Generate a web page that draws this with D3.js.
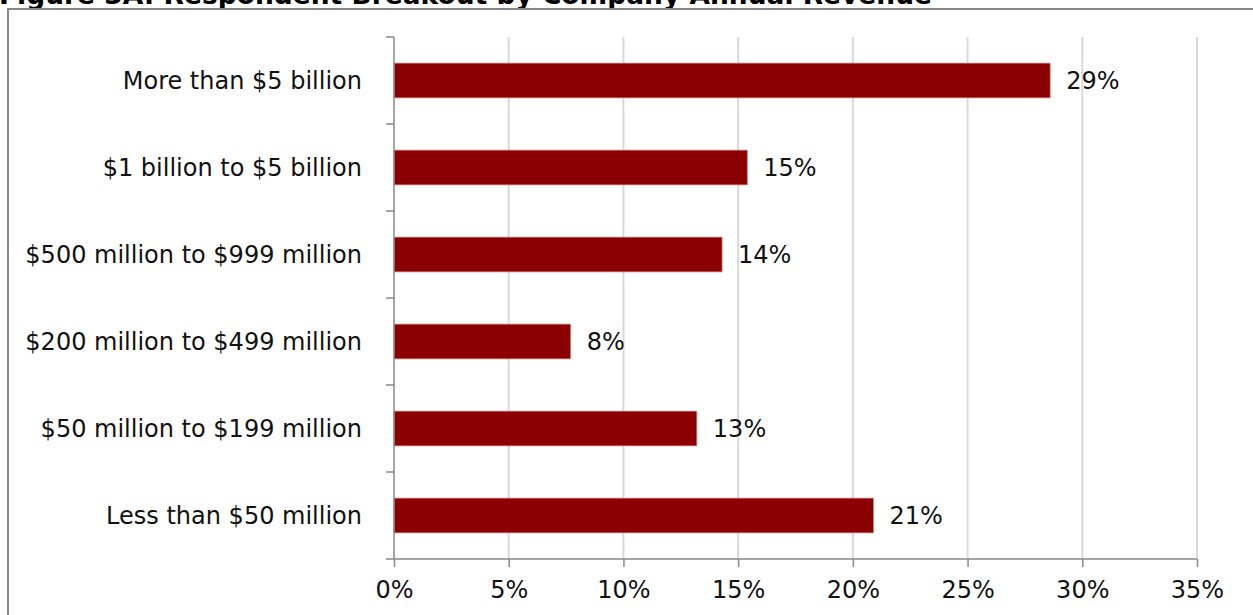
<!DOCTYPE html>
<html>
<head>
<meta charset="utf-8">
<script src="https://cdn.jsdelivr.net/npm/d3@7"></script>
<style>
  html, body { margin: 0; padding: 0; background: #fff; overflow: hidden; }
  svg { display: block; }
</style>
</head>
<body>
<svg id="chart" width="1253" height="615"></svg>
<script>
// Revenue bands, top to bottom
const categories = [
  "More than $5 billion",
  "$1 billion to $5 billion",
  "$500 million to $999 million",
  "$200 million to $499 million",
  "$50 million to $199 million",
  "Less than $50 million"
];
// Share of respondents (%)
const shares = [28.6, 15.4, 14.3, 7.7, 13.2, 20.9];
const tickValues = [0, 5, 10, 15, 20, 25, 30, 35];
const title = "Figure 3A: Respondent Breakout by Company Annual Revenue";

const svg = d3.select("#chart");
const font = "'DejaVu Sans', Verdana, sans-serif";
const labelSize = 24;

// Title (sits above the frame)
svg.append("text")
  .attr("x", -1).attr("y", 4)
  .attr("font-family", font).attr("font-weight", "bold")
  .attr("font-size", 26.5).attr("fill", "#000")
  .text(title);

// Chart frame
svg.append("rect")
  .attr("x", 8).attr("y", 9).attr("width", 1260).attr("height", 620)
  .attr("fill", "none").attr("stroke", "#868686").attr("stroke-width", 2);

const plot = { left: 394, right: 1197, top: 37, bottom: 559 };

const x = d3.scaleLinear().domain([0, 35]).range([plot.left, plot.right]);
const y = d3.scaleBand().domain(categories).range([plot.top, plot.bottom]).paddingInner(0.6).paddingOuter(0.3);
const yEdges = d3.scaleBand().domain(categories).range([plot.top, plot.bottom]);

// Vertical gridlines
svg.append("g").selectAll("line")
  .data(tickValues.filter(d => d > 0))
  .join("line")
  .attr("x1", d => x(d)).attr("x2", d => x(d))
  .attr("y1", plot.top).attr("y2", plot.bottom)
  .attr("stroke", "#d9d9d9").attr("stroke-width", 2);

// Bars
svg.append("g").selectAll("rect")
  .data(categories)
  .join("rect")
  .attr("x", x(0))
  .attr("y", d => y(d))
  .attr("width", (d, i) => x(shares[i]) - x(0))
  .attr("height", y.bandwidth())
  .attr("fill", "#8b0000")
  .attr("stroke", "#c98a8a").attr("stroke-width", 0.8);

// Value labels
svg.append("g").selectAll("text")
  .data(categories)
  .join("text")
  .attr("x", (d, i) => x(shares[i]) + 16)
  .attr("y", d => y(d) + y.bandwidth() / 2)
  .attr("dy", "0.36em")
  .attr("font-family", font).attr("font-size", labelSize).attr("fill", "#111")
  .text((d, i) => Math.round(shares[i]) + "%");

// X axis
const xAxis = svg.append("g")
  .attr("transform", `translate(0,${plot.bottom})`)
  .call(d3.axisBottom(x).tickValues(tickValues).tickFormat(d => d + "%").tickSize(8).tickSizeOuter(0).tickPadding(14));
xAxis.select(".domain").remove();
xAxis.append("line")
  .attr("x1", plot.left - 8).attr("x2", plot.right)
  .attr("stroke", "#888").attr("stroke-width", 1.5);
xAxis.selectAll(".tick line").attr("stroke", "#888").attr("stroke-width", 1.5);
xAxis.selectAll(".tick text")
  .attr("font-family", font).attr("font-size", labelSize).attr("fill", "#111");

// Y axis
const yAxisG = svg.append("g").attr("transform", `translate(${plot.left},0)`);
yAxisG.append("line")
  .attr("y1", plot.top).attr("y2", plot.bottom)
  .attr("stroke", "#888").attr("stroke-width", 1.5);
yAxisG.selectAll("line.edge")
  .data(categories)
  .join("line").attr("class", "edge")
  .attr("x1", -8).attr("x2", 0)
  .attr("y1", d => yEdges(d)).attr("y2", d => yEdges(d))
  .attr("stroke", "#888").attr("stroke-width", 1.5);
yAxisG.selectAll("text")
  .data(categories)
  .join("text")
  .attr("x", -32)
  .attr("y", d => yEdges(d) + yEdges.bandwidth() / 2)
  .attr("dy", "0.36em")
  .attr("text-anchor", "end")
  .attr("font-family", font).attr("font-size", labelSize).attr("fill", "#111")
  .text(d => d);
</script>
</body>
</html>
